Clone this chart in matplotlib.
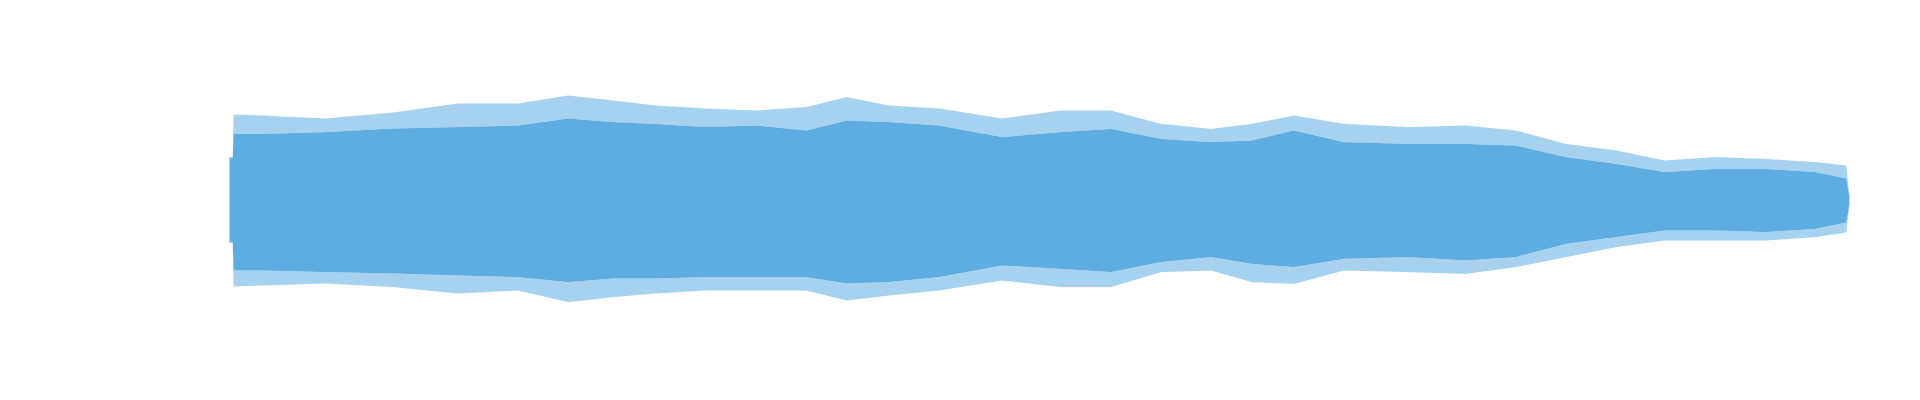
import numpy as np
import matplotlib
matplotlib.use("Agg")
import matplotlib.pyplot as plt

# time position along the clip (0 = start, 1 = end)
t = [0.000, 0.002, 0.0025, 0.020, 0.059, 0.101, 0.141, 0.178, 0.209, 0.237,
     0.263, 0.294, 0.325, 0.356, 0.381, 0.407, 0.438, 0.477, 0.513, 0.544,
     0.575, 0.606, 0.631, 0.657, 0.688, 0.727, 0.763, 0.794, 0.825, 0.856,
     0.886, 0.917, 0.948, 0.979, 0.998, 1.000]

# dense (rms-like) envelope, upper and lower
body_top = [0.215, 0.215, 0.333, 0.333, 0.342, 0.360, 0.367, 0.375, 0.410, 0.392,
            0.383, 0.367, 0.375, 0.350, 0.400, 0.392, 0.375, 0.317, 0.342, 0.358,
            0.308, 0.292, 0.300, 0.350, 0.292, 0.283, 0.283, 0.275, 0.217, 0.183,
            0.142, 0.158, 0.158, 0.142, 0.110, 0.017]
body_bot = [-0.210, -0.210, -0.350, -0.350, -0.358, -0.365, -0.375, -0.383, -0.408, -0.390,
            -0.390, -0.383, -0.383, -0.383, -0.415, -0.408, -0.383, -0.325, -0.342, -0.358,
            -0.308, -0.283, -0.317, -0.333, -0.292, -0.283, -0.300, -0.283, -0.217, -0.183,
            -0.150, -0.150, -0.158, -0.142, -0.110, -0.017]

# peak envelope, upper and lower
peak_top = [0.215, 0.215, 0.430, 0.425, 0.410, 0.440, 0.485, 0.485, 0.525, 0.500,
            0.475, 0.460, 0.450, 0.467, 0.517, 0.475, 0.460, 0.410, 0.450, 0.450,
            0.383, 0.358, 0.383, 0.425, 0.383, 0.367, 0.375, 0.350, 0.283, 0.250,
            0.200, 0.217, 0.208, 0.192, 0.175, 0.017]
peak_bot = [-0.210, -0.210, -0.430, -0.425, -0.415, -0.433, -0.465, -0.450, -0.508, -0.483,
            -0.465, -0.450, -0.450, -0.450, -0.500, -0.475, -0.450, -0.400, -0.433, -0.433,
            -0.358, -0.350, -0.408, -0.417, -0.350, -0.358, -0.367, -0.333, -0.283, -0.233,
            -0.200, -0.200, -0.200, -0.183, -0.160, -0.017]

color = "#5DADE2"

fig = plt.figure(figsize=(19.2, 4), dpi=100)
ax = fig.add_axes([229 / 1920, 0, 1620 / 1920, 1])

t = np.array(t)
ax.fill_between(t, body_top, peak_top, color=color, alpha=0.55, linewidth=0)
ax.fill_between(t, peak_bot, body_bot, color=color, alpha=0.55, linewidth=0)
ax.fill_between(t, body_bot, body_top, color=color, linewidth=0)

ax.set_xlim(0, 1)
ax.set_ylim(-1, 1)
ax.axis("off")

fig.savefig("out.png", dpi=100, facecolor="white")
